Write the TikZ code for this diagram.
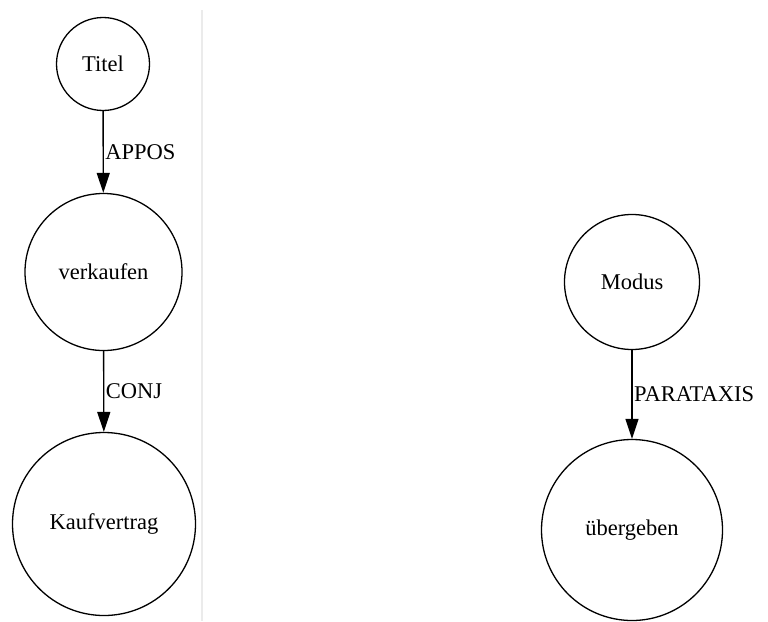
\documentclass[tikz,border=0pt]{standalone}
\usepackage{fontspec}
\setmainfont{Liberation Serif}
\usetikzlibrary{arrows.meta}
\begin{document}
\begin{tikzpicture}[x=1pt,y=-1pt,
  word/.style={circle,draw=black,line width=1.3pt,inner sep=0pt,
    font=\fontsize{22.5}{27}\selectfont},
  dep/.style={line width=1.4pt,-{Triangle[length=20pt,width=13pt]}},
  rel/.style={right,inner sep=1.5pt,font=\fontsize{22.5}{27}\selectfont}]
  \useasboundingbox (0,0) rectangle (768,621);
  % separator between the two trees
  \draw[black!8,line width=1.2pt] (202,10) -- (202,621);
  % left tree
  \node[word,minimum size=93pt]  (titel) at (103,64)  {Titel};
  \node[word,minimum size=157pt] (verk)  at (103.5,272) {verkaufen};
  \node[word,minimum size=183pt] (kauf)  at (104,524) {Kaufvertrag};
  % right tree
  \node[word,minimum size=135pt] (modus) at (632,282) {Modus};
  \node[word,minimum size=181pt] (ueber) at (632,530) {übergeben};
  % dependencies
  \draw[dep] (titel) -- node[rel] {APPOS} (verk);
  \draw[dep] (verk)  -- node[rel] {CONJ} (kauf);
  \draw[dep] (modus) -- node[rel] {PARATAXIS} (ueber);
\end{tikzpicture}
\end{document}
